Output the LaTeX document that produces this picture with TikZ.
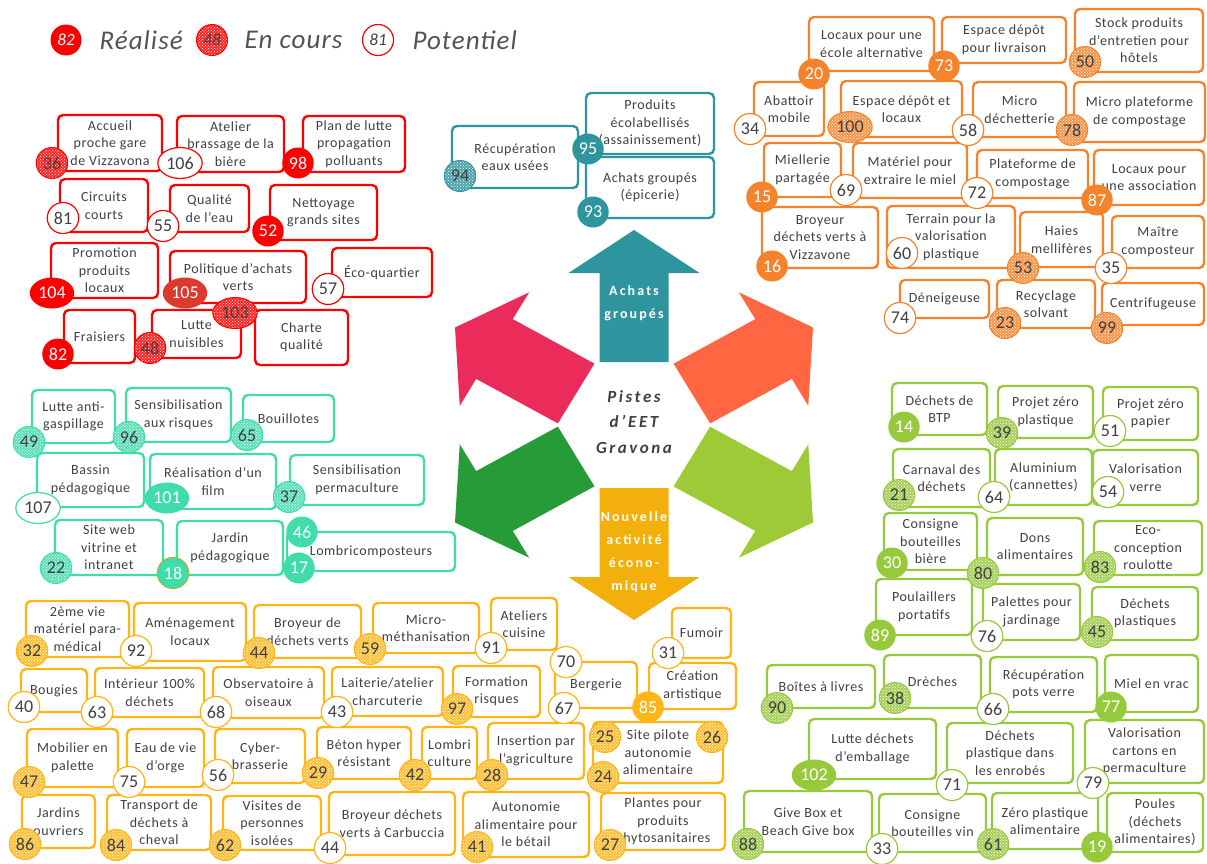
\documentclass[tikz,border=0pt]{standalone}
\usepackage{fontspec}
\setmainfont{Carlito}
\newfontfamily\boxfont[LetterSpace=4]{Carlito}
\newfontfamily\widefont[LetterSpace=15]{Carlito}
\usetikzlibrary{shapes.geometric,patterns}
\definecolor{txt}{HTML}{404040}
\definecolor{rouge}{HTML}{FF0000}
\definecolor{rougefonce}{HTML}{DC3A2E}
\definecolor{bleuvert}{HTML}{2E949E}
\definecolor{orangebox}{HTML}{F5832B}
\definecolor{menthe}{HTML}{40DCAA}
\definecolor{jaune}{HTML}{FFB515}
\definecolor{vert}{HTML}{97C93D}
\definecolor{olive}{HTML}{A8B43A}
\definecolor{flTeal}{HTML}{2E959E}
\definecolor{flOrange}{HTML}{FF6641}
\definecolor{flVert}{HTML}{9DCB38}
\definecolor{flJaune}{HTML}{F3AF0B}
\definecolor{flVertFonce}{HTML}{269B37}
\definecolor{flRose}{HTML}{EB2C5B}
\tikzset{
  box/.style={draw=gc, line width=2.4pt, rounded corners=5pt, fill=white, align=center,
    text=txt, inner sep=0pt, font=\boxfont\fontsize{14}{17.5}\selectfont},
  badge/.style={ellipse, minimum size=31pt, inner xsep=2pt, inner ysep=0pt,
    font=\fontsize{18}{18}\selectfont},
  fait/.style={badge, fill=gc, text=white},
  cours/.style={badge, draw=gc, line width=1pt, preaction={fill=gc!85},
    pattern=crosshatch dots, pattern color=white, text=txt},
  pot/.style={badge, draw=gc, line width=1.2pt, fill=white, text=txt},
  legende/.style={anchor=west, text=txt!90, font=\boxfont\fontsize{27}{27}\selectfont\itshape},
  fleche/.style={text=white, align=center, font=\widefont\fontsize{14}{23}\selectfont\bfseries}
}
\begin{document}
\begin{tikzpicture}[x=1pt,y=-1pt]
\path[use as bounding box, fill=white] (0,0) rectangle (1207,863);
\foreach \ang/\col/\sx in {90/flTeal/1, 30/flOrange/1.06, 330/flVert/1.06, 270/flJaune/1, 210/flVertFonce/1.06, 150/flRose/1.06}
  \fill[fill=\col, shift={(634,425)}, xscale=\sx, rotate=\ang] (63,-34.5) -- (152,-34.5) -- (152,-65.5) -- (195,0) -- (152,65.5) -- (152,34.5) -- (63,34.5) -- cycle;
\node[align=center, text=txt, font=\widefont\fontsize{17}{25.5}\selectfont\bfseries\itshape] (centre) at (634,422) {Pistes\\d’EET\\Gravona};
\node[fleche] (achats) at (634,303) {Achats\\groupés};
\node[fleche] (nouvelle) at (634,552) {Nouvelle\\activité\\écono-\\mique};

\colorlet{gc}{rouge}
\node[fait, font=\fontsize{17}{17}\selectfont\itshape] (lfait) at (66,40) {82};
\node[legende] (tfait) at (96,40) {Réalisé};
\node[cours, font=\fontsize{17}{17}\selectfont\itshape] (lcours) at (212,40) {48};
\node[legende] (tcours) at (241,40) {En cours};
\node[pot, font=\fontsize{17}{17}\selectfont\itshape] (lpot) at (378,40) {81};
\node[legende] (tpot) at (409,40) {Potentiel};

\foreach \xa/\ya/\xb/\yb/\lbl [count=\i] in {58/115/162/171/{Accueil\\proche gare\\de Vizzavona}, 177/116/284/172/{Atelier\\brassage de la\\bière}, 303/116/405/172/{Plan de lutte\\propagation\\polluants}, 60/179/148/232/{Circuits\\courts}, 170/185/249/232/{Qualité\\de l’eau}, 270/185/377/240/{Nettoyage\\grands sites}, 51/243/158/298/{Promotion\\produits\\locaux}, 170/251/306/303/{Politique d’achats\\verts}, 332/248/432/297/{Éco-quartier}, 64/310/135/363/{Fraisiers}, 152/310/241/358/{Lutte\\nuisibles}, 255/310/348/365/{Charte\\qualité}}
  {\pgfmathsetmacro\w{\xb-\xa}\pgfmathsetmacro\h{\yb-\ya}
   \node[box, minimum width=\w pt, minimum height=\h pt] (rouge\i) at ({(\xa+\xb)/2},{(\ya+\yb)/2}) {\lbl};}
\foreach \x/\y/\n/\s [count=\i] in {52/163/36/cours, 180/163/106/pot, 298/163/98/fait, 63/218/81/pot, 163/226/55/pot, 268/231/52/fait, 52/293/104/fait, 328/289/57/pot, 58/354/82/fait, 150/348/48/cours, 235/313/103/cours}
  \node[\s] (rb\i) at (\x,\y) {\n};
\node[fait, fill=rougefonce] (rb105) at (185,293) {105};

\colorlet{gc}{bleuvert}
\foreach \xa/\ya/\xb/\yb/\lbl [count=\i] in {452/126/578/188/{Récupération\\eaux usées}, 586/93/714/154/{Produits\\écolabellisés\\(assainissement)}, 586/157/714/218/{Achats groupés\\(épicerie)}}
  {\pgfmathsetmacro\w{\xb-\xa}\pgfmathsetmacro\h{\yb-\ya}
   \node[box, minimum width=\w pt, minimum height=\h pt] (teal\i) at ({(\xa+\xb)/2},{(\ya+\yb)/2}) {\lbl};}
\foreach \x/\y/\n/\s [count=\i] in {460/176/94/cours, 588/149/95/fait, 593/212/93/fait}
  \node[\s] (tb\i) at (\x,\y) {\n};

\colorlet{gc}{orangebox}
\foreach \xa/\ya/\xb/\yb/\lbl [count=\i] in {809/17/934/71/{Locaux pour une\\école alternative}, 942/17/1066/63/{Espace dépôt\\pour livraison}, 1075/9/1203/72/{Stock produits\\d’entretien pour\\hôtels}, 754/82/824/136/{Abattoir\\mobile}, 841/81/962/137/{Espace dépôt et\\locaux}, 973/82/1066/137/{Micro\\déchetterie}, 1074/82/1205/142/{Micro plateforme\\de compostage}, 764/143/841/197/{Miellerie\\partagée}, 853/143/967/198/{Matériel pour\\extraire le miel}, 977/150/1088/198/{Plateforme de\\compostage}, 1094/150/1204/205/{Locaux pour\\une association}, 762/207/878/268/{Broyeur\\déchets verts à\\Vizzavone}, 887/206/1015/268/{Terrain pour la\\valorisation\\plastique}, 1020/212/1103/267/{Haies\\mellifères}, 1112/216/1204/268/{Maître\\composteur}, 900/280/989/318/{Déneigeuse}, 997/280/1095/328/{Recyclage\\solvant}, 1102/283/1204/325/{Centrifugeuse}}
  {\pgfmathsetmacro\w{\xb-\xa}\pgfmathsetmacro\h{\yb-\ya}
   \node[box, minimum width=\w pt, minimum height=\h pt] (orange\i) at ({(\xa+\xb)/2},{(\ya+\yb)/2}) {\lbl};}
\foreach \x/\y/\n/\s [count=\i] in {814/74/20/fait, 944/66/73/fait, 1085/62/50/cours, 750/129/34/pot, 850/127/100/cours, 968/130/58/pot, 1072/130/78/cours, 762/197/15/fait, 846/190/69/pot, 977/193/72/pot, 1097/200/87/fait, 772/266/16/fait, 902/253/60/pot, 1023/268/53/cours, 1111/268/35/pot, 900/318/74/pot, 1005/323/23/cours, 1107/328/99/cours}
  \node[\s] (ob\i) at (\x,\y) {\n};

\colorlet{gc}{menthe}
\foreach \xa/\ya/\xb/\yb/\lbl [count=\i] in {32/390/115/443/{Lutte anti-\\gaspillage}, 126/388/231/442/{Sensibilisation\\aux risques}, 243/395/334/442/{Bouillotes}, 37/453/144/507/{Bassin\\pédagogique}, 150/454/276/509/{Réalisation d’un\\film}, 290/455/424/505/{Sensibilisation\\permaculture}, 55/520/163/575/{Site web\\vitrine et\\intranet}, 177/521/283/575/{Jardin\\pédagogique}, 287/532/455/571/{Lombricomposteurs}}
  {\pgfmathsetmacro\w{\xb-\xa}\pgfmathsetmacro\h{\yb-\ya}
   \node[box, minimum width=\w pt, minimum height=\h pt] (menthe\i) at ({(\xa+\xb)/2},{(\ya+\yb)/2}) {\lbl};}
\foreach \x/\y/\n/\s [count=\i] in {29/442/49/cours, 129/437/96/cours, 247/435/65/cours, 38/508/107/pot, 167/498/101/fait, 289/497/37/cours, 56/568/22/cours, 302/532/46/fait, 299/568/17/fait}
  \node[\s] (mb\i) at (\x,\y) {\n};
\node[fait, draw=olive, line width=1pt] (mb18) at (173,573) {18};

\colorlet{gc}{jaune}
\foreach \xa/\ya/\xb/\yb/\lbl [count=\i] in {26/601/129/657/{2ème vie\\matériel para-\\médical}, 134/603/246/661/{Aménagement\\locaux}, 254/605/361/658/{Broyeur de\\déchets verts}, 373/603/479/653/{Micro-\\méthanisation}, 491/598/557/650/{Ateliers\\cuisine}, 672/608/731/658/{Fumoir}, 555/662/637/708/{Bergerie}, 649/663/736/709/{Création\\artistique}, 21/669/87/712/{Bougies}, 95/668/204/717/{Intérieur 100\%\\déchets}, 213/667/324/718/{Observatoire à\\oiseaux}, 332/667/443/716/{Laiterie/atelier\\charcuterie}, 453/666/540/717/{Formation\\risques}, 27/729/118/787/{Mobilier en\\palette}, 127/729/204/787/{Eau de vie\\d’orge}, 215/729/305/783/{Cyber-\\brasserie}, 317/727/411/779/{Béton hyper\\résistant}, 422/727/477/779/{Lombri\\culture}, 488/723/584/779/{Insertion par\\l’agriculture}, 593/722/723/783/{Site pilote\\autonomie\\alimentaire}, 22/795/95/848/{Jardins\\ouvriers}, 107/795/211/850/{Transport de\\déchets à\\cheval}, 223/796/321/850/{Visites de\\personnes\\isolées}, 329/792/455/855/{Broyeur déchets\\verts à Carbuccia}, 463/792/589/857/{Autonomie\\alimentaire pour\\le bétail}, 601/793/725/850/{Plantes pour\\produits\\phytosanitaires}}
  {\pgfmathsetmacro\w{\xb-\xa}\pgfmathsetmacro\h{\yb-\ya}
   \node[box, minimum width=\w pt, minimum height=\h pt] (jaune\i) at ({(\xa+\xb)/2},{(\ya+\yb)/2}) {\lbl};}
\foreach \x/\y/\n/\s [count=\i] in {32/651/32/cours, 136/651/92/pot, 259/653/44/cours, 370/649/59/cours, 491/648/91/pot, 668/653/31/pot, 566/662/70/pot, 564/708/67/pot, 648/707/85/fait, 24/707/40/pot, 97/712/63/pot, 216/712/68/pot, 337/712/43/pot, 457/709/97/cours, 29/782/47/cours, 129/782/75/pot, 218/775/56/pot, 318/773/29/cours, 415/775/42/cours, 492/775/28/cours, 605/737/25/cours, 712/737/26/cours, 603/777/24/cours, 25/844/86/cours, 116/845/84/cours, 225/845/62/cours, 330/848/44/pot, 477/847/41/cours, 610/845/27/cours}
  \node[\s] (jb\i) at (\x,\y) {\n};

\colorlet{gc}{vert}
\foreach \xa/\ya/\xb/\yb/\lbl [count=\i] in {892/383/987/435/{Déchets de\\BTP}, 998/386/1093/438/{Projet zéro\\plastique}, 1103/387/1198/440/{Projet zéro\\papier}, 893/449/990/507/{Carnaval des\\déchets}, 995/449/1092/505/{Aluminium\\(cannettes)}, 1093/450/1198/505/{Valorisation\\verre}, 884/513/977/570/{Consigne\\bouteilles\\bière}, 987/518/1083/575/{Dons\\alimentaires}, 1094/521/1202/575/{Eco-\\conception\\roulotte}, 876/579/972/635/{Poulaillers\\portatifs}, 983/584/1080/640/{Palettes pour\\jardinage}, 1092/587/1198/640/{Déchets\\plastiques}, 767/665/875/708/{Boîtes à livres}, 884/655/981/708/{Drèches}, 990/657/1097/712/{Récupération\\pots verre}, 1105/655/1198/712/{Miel en vrac}, 809/719/936/779/{Lutte déchets\\d’emballage}, 947/723/1073/783/{Déchets\\plastique dans\\les enrobés}, 1085/720/1204/783/{Valorisation\\cartons en\\permaculture}, 744/791/872/852/{Give Box et\\Beach Give box}, 879/794/986/852/{Consigne\\bouteilles vin}, 992/793/1098/849/{Zéro plastique\\alimentaire}, 1107/793/1203/852/{Poules\\(déchets\\alimentaires)}}
  {\pgfmathsetmacro\w{\xb-\xa}\pgfmathsetmacro\h{\yb-\ya}
   \node[box, minimum width=\w pt, minimum height=\h pt] (vert\i) at ({(\xa+\xb)/2},{(\ya+\yb)/2}) {\lbl};}
\foreach \x/\y/\n/\s [count=\i] in {904/427/14/fait, 1002/433/39/cours, 1110/431/51/pot, 899/495/21/cours, 994/497/64/pot, 1108/492/54/pot, 892/563/30/fait, 983/573/80/cours, 1100/567/83/cours, 880/635/89/fait, 987/636/76/pot, 1097/632/45/cours, 777/708/90/cours, 895/698/38/cours, 993/709/66/pot, 1111/707/77/fait, 814/775/102/fait, 952/785/71/pot, 1093/783/79/pot, 748/844/88/cours, 882/849/33/pot, 993/844/61/cours, 1097/847/19/fait}
  \node[\s] (vb\i) at (\x,\y) {\n};
\end{tikzpicture}
\end{document}
